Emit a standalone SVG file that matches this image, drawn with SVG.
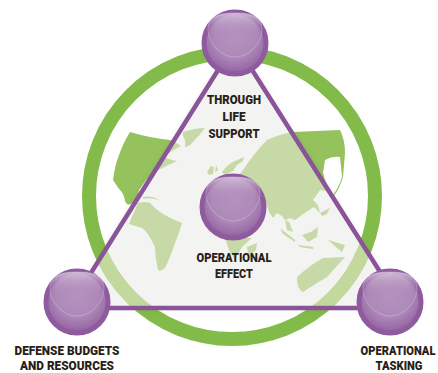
<svg xmlns="http://www.w3.org/2000/svg" xmlns:xlink="http://www.w3.org/1999/xlink" width="438" height="373" viewBox="0 0 438 373">
<style>
.lbl{font-family:"Roboto","Liberation Sans",sans-serif;font-weight:900;font-size:12.500px;fill:#2a1f18;text-anchor:middle}
.edge{stroke:#8a5499;stroke-width:4.500;fill:none}
.ball{fill:url(#ballFill);stroke:#8f5b9f;stroke-width:5}
.gloss{fill:url(#gloss);stroke:#e4d6e8;stroke-width:.6;stroke-opacity:.6}
</style>
<defs>
<radialGradient id="ballFill" cx=".5" cy=".4" r=".62">
<stop offset="0" stop-color="#b591be"/><stop offset=".55" stop-color="#ad89b9"/><stop offset=".85" stop-color="#9a6ba6"/><stop offset="1" stop-color="#8a5499"/>
</radialGradient>
<linearGradient id="gloss" x1="0" y1="0" x2="0" y2="1">
<stop offset="0" stop-color="#d9c9de" stop-opacity=".85"/><stop offset=".45" stop-color="#b692bf" stop-opacity=".1"/><stop offset="1" stop-color="#b692bf" stop-opacity="0"/>
</linearGradient>
<path id="glossShape" d="M-27,-6 C-27,-19 -15,-22 0,-22 C15,-22 27,-19 27,-6 C27,10 12,22 0,22 C-12,22 -27,10 -27,-6 Z"/>
<clipPath id="tri"><polygon points="235,43 69,308 403,308"/></clipPath>
<filter id="soft" x="-10%" y="-10%" width="120%" height="120%"><feGaussianBlur stdDeviation="3.500"/></filter>
<g id="land">
<path d="M130,132 Q150,138 170,140 Q177,143 181,146 L172,151 L164,157 Q171,160 177,161 Q165,166 155,172 L146,180 L139,190 Q137,201 131,204 Q127,206 125,201 Q124,193 119,189 L113,180 Q115,165 118,158 Q123,143 130,132 Z"/>
<path d="M143,197 Q152,195 159,200 Q150,197 143,199 Z"/>
<path d="M183,132 Q195,128 205,128 Q199,136 192,143 Q188,147 185,147 Q186,140 183,136 Z"/>
<path d="M138,203 Q145,201 150,203 Q160,215 182,223 Q178,236 175,243 Q170,258 165,268 Q160,272 158,270 Q155,258 155,247 Q148,232 142,228 Q135,226 129,224 Q134,212 138,203 Z"/>
<path d="M207,172 L211,166 L214,167 L213,174 L209,175 Z M216,165 L218,170 L215,172 Z M222,172 Q226,166 231,163 L244,157 L243,161 L237,165 L233,171 L224,175 Z"/>
<path d="M238,176 L243,170 Q255,152 267,140 Q280,134 293,132 L340,130 Q345,140 345,153 L343,177 Q340,188 333,197 L331,192 L320,190 L313,200 L318,205 L320,213 L314,207 L306,212 L295,220 L290,218 L285,220 L282,216 L277,213 L273,218 L269,212 L267,205 L255,190 Z"/>
<path d="M225,238 L252,238 L242,247 L235,260 L229,250 Z M247,247 L257,243 L256,250 L250,256 L248,254 Z"/>
<path d="M280,228 L295,240 L295,242 L283,234 Z M285,220 L289,222 L293,232 L287,230 Z M302,235 L311,232 L318,227 L317,237 L308,242 Z M298,245 L313,247 L313,249 L300,247 Z M328,240 L345,245 L342,252 L337,248 Z M320,213 L330,208 L327,214 L322,216 Z"/>
<path d="M297,277 Q310,265 323,258 L345,257 Q335,268 327,277 Q312,286 303,292 Q297,290 297,277 Z"/>
</g>
</defs>
<g id="globe">
<circle cx="232" cy="196" r="143" fill="none" stroke="#82bb49" stroke-width="14"/>
<use xlink:href="#land" href="#land" fill="#95c25c"/>
<path d="M325,160 Q332,156 340,157 L342,177 Q339,187 333,195 Q326,185 323,173 Z" fill="#fff"/>
<polygon points="235,43 69,308 403,308" fill="#333" opacity=".16" filter="url(#soft)"/>
<g clip-path="url(#tri)">
<rect width="438" height="373" fill="#f3f3f2"/>
<use xlink:href="#land" href="#land" fill="#c6d9a6"/>
<circle cx="232" cy="196" r="143" fill="none" stroke="#c2d89d" stroke-width="14"/>
</g>
</g>
<g id="connectors">
<polyline class="edge" points="235,43 69,308 403,308 235,43"/>
</g>
<g id="node-through-life">
<circle class="ball" cx="235" cy="43" r="31"/>
<use class="gloss" xlink:href="#glossShape" href="#glossShape" x="235" y="35"/>
<text class="lbl" x="234" y="103.500" textLength="54" lengthAdjust="spacingAndGlyphs">THROUGH</text>
<text class="lbl" x="234" y="120.500" textLength="23" lengthAdjust="spacingAndGlyphs">LIFE</text>
<text class="lbl" x="234" y="137.500" textLength="51" lengthAdjust="spacingAndGlyphs">SUPPORT</text>
</g>
<g id="node-operational-effect">
<circle class="ball" cx="233" cy="207" r="31"/>
<use class="gloss" xlink:href="#glossShape" href="#glossShape" x="233" y="199"/>
<text class="lbl" x="234" y="261.500" textLength="75" lengthAdjust="spacingAndGlyphs">OPERATIONAL</text>
<text class="lbl" x="234" y="277.500" textLength="38" lengthAdjust="spacingAndGlyphs">EFFECT</text>
</g>
<g id="node-defense-budgets">
<circle class="ball" cx="77" cy="302" r="31"/>
<use class="gloss" xlink:href="#glossShape" href="#glossShape" x="77" y="294"/>
<text class="lbl" x="67" y="355" textLength="105" lengthAdjust="spacingAndGlyphs">DEFENSE BUDGETS</text>
<text class="lbl" x="67" y="369.500" textLength="94" lengthAdjust="spacingAndGlyphs">AND RESOURCES</text>
</g>
<g id="node-operational-tasking">
<circle class="ball" cx="390" cy="302" r="31"/>
<use class="gloss" xlink:href="#glossShape" href="#glossShape" x="390" y="294"/>
<text class="lbl" transform="translate(398,355) scale(.85,1)" textLength="88" lengthAdjust="spacingAndGlyphs">OPERATIONAL</text>
<text class="lbl" x="399" y="369.500" textLength="47" lengthAdjust="spacingAndGlyphs">TASKING</text>
</g>
</svg>
